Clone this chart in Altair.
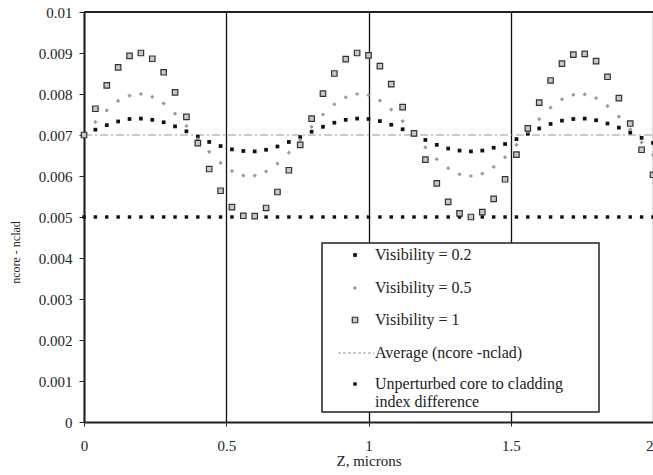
import altair as alt
import pandas as pd

# ---- data ----
z = [0.00, 0.04, 0.08, 0.12, 0.16, 0.20, 0.24, 0.28, 0.32, 0.36,
     0.40, 0.44, 0.48, 0.52, 0.56, 0.60, 0.64, 0.68, 0.72, 0.76,
     0.80, 0.84, 0.88, 0.92, 0.96, 1.00, 1.04, 1.08, 1.12, 1.16,
     1.20, 1.24, 1.28, 1.32, 1.36, 1.40, 1.44, 1.48, 1.52, 1.56,
     1.60, 1.64, 1.68, 1.72, 1.76, 1.80, 1.84, 1.88, 1.92, 1.96, 2.00]

vis_02 = [0.00700, 0.00713, 0.00724, 0.00733, 0.00739, 0.00740, 0.00737, 0.00731, 0.00721, 0.00709,
          0.00696, 0.00683, 0.00673, 0.00665, 0.00661, 0.00660, 0.00664, 0.00672, 0.00683, 0.00695,
          0.00708, 0.00720, 0.00730, 0.00737, 0.00740, 0.00739, 0.00734, 0.00725, 0.00714, 0.00701,
          0.00688, 0.00676, 0.00667, 0.00662, 0.00660, 0.00662, 0.00669, 0.00678, 0.00690, 0.00703,
          0.00716, 0.00727, 0.00735, 0.00739, 0.00740, 0.00736, 0.00728, 0.00718, 0.00706, 0.00693, 0.00681]

vis_05 = [0.00700, 0.00732, 0.00760, 0.00783, 0.00796, 0.00800, 0.00793, 0.00777, 0.00752, 0.00722,
          0.00690, 0.00659, 0.00632, 0.00612, 0.00601, 0.00601, 0.00611, 0.00630, 0.00657, 0.00688,
          0.00720, 0.00750, 0.00775, 0.00792, 0.00800, 0.00797, 0.00784, 0.00762, 0.00734, 0.00702,
          0.00670, 0.00641, 0.00619, 0.00604, 0.00600, 0.00606, 0.00622, 0.00646, 0.00676, 0.00708,
          0.00739, 0.00767, 0.00787, 0.00798, 0.00799, 0.00790, 0.00771, 0.00745, 0.00714, 0.00682, 0.00651]

vis_1 = [0.00700, 0.00764, 0.00821, 0.00865, 0.00893, 0.00900, 0.00886, 0.00853, 0.00804, 0.00744,
         0.00680, 0.00617, 0.00564, 0.00524, 0.00503, 0.00502, 0.00522, 0.00561, 0.00614, 0.00676,
         0.00740, 0.00801, 0.00850, 0.00885, 0.00900, 0.00894, 0.00868, 0.00824, 0.00768, 0.00704,
         0.00640, 0.00582, 0.00537, 0.00509, 0.00500, 0.00512, 0.00544, 0.00592, 0.00652, 0.00716,
         0.00779, 0.00833, 0.00874, 0.00896, 0.00898, 0.00880, 0.00842, 0.00790, 0.00728, 0.00664, 0.00603]

unperturbed = [0.005] * len(z)

avg_z = [0.0, 2.0]
avg_val = [0.007, 0.007]

x_ticks = [0, 0.5, 1, 1.5, 2]
y_ticks = [0, 0.001, 0.002, 0.003, 0.004, 0.005, 0.006, 0.007, 0.008, 0.009, 0.01]

legend_labels = ["Visibility = 0.2", "Visibility = 0.5", "Visibility = 1",
                 "Average (ncore -nclad)", "Unperturbed  core to cladding", "index difference"]

FONT = "Liberation Serif"

df = pd.DataFrame({"z": z, "v02": vis_02, "v05": vis_05, "v1": vis_1, "unp": unperturbed})
df_avg = pd.DataFrame({"z": avg_z, "v": avg_val})

xscale = alt.Scale(domain=[0, 2], nice=False, zero=False)
yscale = alt.Scale(domain=[0, 0.01], nice=False)

xaxis = alt.Axis(values=x_ticks, format="~g", grid=True, gridColor="#111", gridWidth=1.3,
                 domainColor="#222", domainWidth=2, tickColor="#222", tickSize=4,
                 labelPadding=12, labelFlush=False, labelOverlap=False,
                 labelAlign={"condition": {"test": "datum.value >= 2", "value": "right"},
                             "value": "center"},
                 title="Z, microns", titlePadding=0,
                 titleFont=FONT, titleFontSize=15, titleFontWeight="normal", titleColor="#222",
                 labelFont=FONT, labelFontSize=15, labelColor="#222")
yaxis = alt.Axis(values=y_ticks, format="~g", grid=False, labelFlush=False,
                 domainColor="#222", domainWidth=2, tickColor="#222", tickSize=5,
                 labelPadding=7, title="ncore - nclad", titleX=-62, titleY=240,
                 titleFont=FONT, titleFontSize=12, titleFontWeight="normal", titleColor="#222",
                 labelFont=FONT, labelFontSize=15, labelColor="#222")

base = alt.Chart(df)

avg_line = alt.Chart(df_avg).mark_line(color="#999", strokeWidth=1, strokeDash=[8, 3, 2, 3]).encode(
    x=alt.X("z:Q", scale=xscale, axis=xaxis),
    y=alt.Y("v:Q", scale=yscale, axis=yaxis),
)

one = pd.DataFrame({"a": [0]})
top_border = alt.Chart(one).mark_rule(color="#222", strokeWidth=2).encode(
    x=alt.value(0), x2=alt.value(569), y=alt.value(0))

unp_pts = base.mark_point(shape="square", filled=True, size=12, color="#111", opacity=1).encode(
    x=alt.X("z:Q", scale=xscale), y=alt.Y("unp:Q", scale=yscale))
p02 = base.mark_point(shape="square", filled=True, size=14, color="#111", opacity=1).encode(
    x=alt.X("z:Q", scale=xscale), y=alt.Y("v02:Q", scale=yscale))
p05 = base.mark_point(shape="diamond", filled=True, size=18, color="#9a9a9a", opacity=1).encode(
    x=alt.X("z:Q", scale=xscale), y=alt.Y("v05:Q", scale=yscale))
p1 = base.mark_point(shape="square", filled=True, size=30, fill="#c8c8c8", stroke="#333",
                     strokeWidth=1.2, opacity=1).encode(
    x=alt.X("z:Q", scale=xscale), y=alt.Y("v1:Q", scale=yscale))

# ---- hand-drawn legend box (pixel positions inside the plot area) ----
box = alt.Chart(one).mark_rect(fill="white", stroke="#222", strokeWidth=1.5).encode(
    x=alt.value(238), x2=alt.value(515), y=alt.value(231), y2=alt.value(400))

sym_x = 271
txt_x = 291
rows = [243, 276, 308, 341, 372, 390]

leg = [box]
leg.append(alt.Chart(one).mark_point(shape="square", filled=True, size=14, color="#111", opacity=1)
           .encode(x=alt.value(sym_x), y=alt.value(rows[0])))
leg.append(alt.Chart(one).mark_point(shape="diamond", filled=True, size=18, color="#9a9a9a", opacity=1)
           .encode(x=alt.value(sym_x), y=alt.value(rows[1])))
leg.append(alt.Chart(one).mark_point(shape="square", filled=True, size=30, fill="#c8c8c8", stroke="#333",
                                     strokeWidth=1.2, opacity=1)
           .encode(x=alt.value(sym_x), y=alt.value(rows[2])))
leg.append(alt.Chart(one).mark_rule(color="#999", strokeWidth=1, strokeDash=[3, 2])
           .encode(x=alt.value(254), x2=alt.value(290), y=alt.value(rows[3])))
leg.append(alt.Chart(one).mark_point(shape="square", filled=True, size=12, color="#111", opacity=1)
           .encode(x=alt.value(sym_x), y=alt.value(rows[4])))
for lab, yy in zip(legend_labels, rows):
    leg.append(alt.Chart(one).mark_text(text=lab, font=FONT, fontSize=16, color="#222",
                                        align="left", baseline="middle")
               .encode(x=alt.value(txt_x), y=alt.value(yy)))

chart = alt.layer(avg_line, top_border, unp_pts, p02, p05, p1, *leg).properties(
    width=569, height=410,
    autosize=alt.AutoSizeParams(type="none"),
    padding={"left": 84, "top": 12, "right": 0, "bottom": 53},
).configure_view(stroke=None).configure(background="white")

chart.save("out.html", embed_options={"renderer": "svg", "actions": False})
